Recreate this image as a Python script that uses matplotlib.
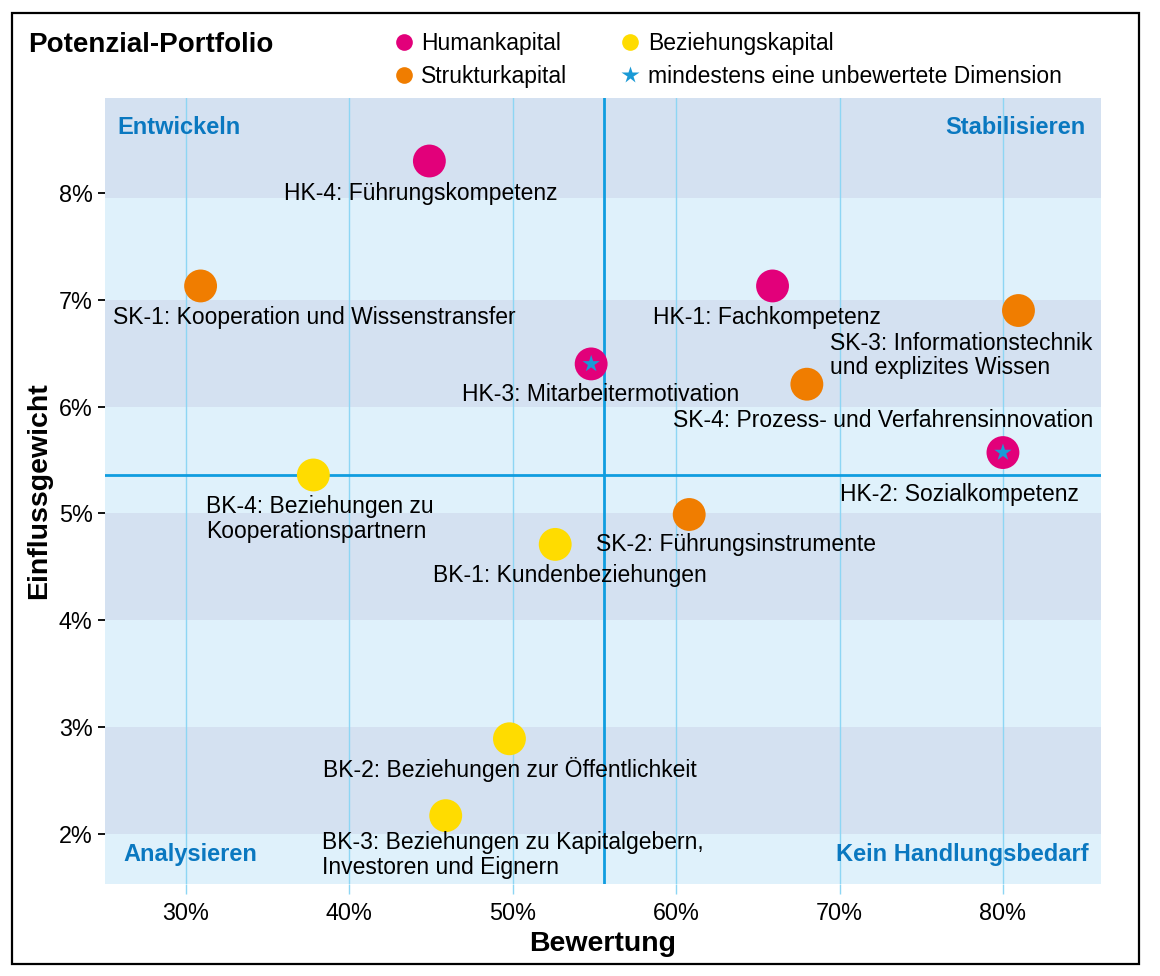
import matplotlib
matplotlib.use("Agg")
import matplotlib.pyplot as plt
from matplotlib.lines import Line2D
from matplotlib.patches import Rectangle

plt.rcParams['font.family'] = ['Liberation Sans', 'DejaVu Sans']

# ---- data ----
labels = ["HK-4: Führungskompetenz", "SK-1: Kooperation und Wissenstransfer",
          "HK-1: Fachkompetenz", "SK-3: Informationstechnik\nund explizites Wissen",
          "HK-3: Mitarbeitermotivation", "SK-4: Prozess- und Verfahrensinnovation",
          "HK-2: Sozialkompetenz", "BK-4: Beziehungen zu\nKooperationspartnern",
          "SK-2: Führungsinstrumente", "BK-1: Kundenbeziehungen",
          "BK-2: Beziehungen zur Öffentlichkeit",
          "BK-3: Beziehungen zu Kapitalgebern,\nInvestoren und Eignern"]
groups = ["HK", "SK", "HK", "SK", "HK", "SK", "HK", "BK", "SK", "BK", "BK", "BK"]
bewertung = [44.9, 30.9, 65.9, 80.95, 54.8, 68.0, 80.0, 37.8, 60.8, 52.6, 49.8, 45.9]
einfluss = [8.30, 7.13, 7.13, 6.90, 6.40, 6.21, 5.57, 5.36, 4.99, 4.71, 2.89, 2.17]
unbewertet = [False, False, False, False, True, False, True, False, False, False, False, False]
mean_x = 55.6
mean_y = 5.36
x_ticks = [30, 40, 50, 60, 70, 80]
y_ticks = [2, 3, 4, 5, 6, 7, 8]
legend_names = ["Humankapital", "Strukturkapital", "Beziehungskapital",
                "mindestens eine unbewertete Dimension"]
quadrants = ["Entwickeln", "Stabilisieren", "Analysieren", "Kein Handlungsbedarf"]

# ---- style ----
colors = {"HK": "#e2007a", "SK": "#f07d00", "BK": "#ffdc00"}
star_color = "#1a9ad6"
dark_band = "#d4e1f1"
light_band = "#dff1fb"
grid_color = "#8dd6f4"
mean_color = "#109de0"
quad_color = "#0a78c0"
# label offsets in pixels (dx, dy) and alignment
offsets = [(-9, -32, 'center'), (114, -32, 'center'), (-6, -32, 'center'),
           (-188, -45, 'left'), (9, -31, 'center'), (76, -36, 'center'),
           (-44, -42, 'center'), (-107, -44, 'left'), (47, -30, 'center'),
           (15, -31, 'center'), (0, -31, 'center'), (-124, -39, 'left')]

W, H = 1160, 976
fig = plt.figure(figsize=(W / 100, H / 100), dpi=100)
fig.patch.set_facecolor("white")
ax = fig.add_axes([105 / W, 1 - 884 / H, (1101 - 105) / W, (884 - 98) / H])

xlim = (25.05, 86.0)
ylim = (1.53, 8.89)
ax.set_xlim(*xlim)
ax.set_ylim(*ylim)

# bands
edges = [ylim[0], 2, 3, 4, 5, 6, 7, 7.95, ylim[1]]
for i in range(len(edges) - 1):
    c = light_band if i % 2 == 0 else dark_band
    ax.axhspan(edges[i], edges[i + 1], color=c, lw=0, zorder=0)

for xv in x_ticks:
    ax.axvline(xv, color=grid_color, lw=1.0, zorder=1)
ax.axvline(mean_x, color=mean_color, lw=2.0, zorder=2)
ax.axhline(mean_y, color=mean_color, lw=2.0, zorder=2)

for sp in ax.spines.values():
    sp.set_visible(False)

ax.set_xticks(x_ticks)
ax.set_xticklabels([f"{v}%" for v in x_ticks])
ax.set_yticks(y_ticks)
ax.set_yticklabels([f"{v}%" for v in y_ticks])
ax.tick_params(axis='x', length=7, width=1, color=grid_color, pad=6, labelsize=16.8)
ax.tick_params(axis='y', length=5, width=1.3, color='black', pad=4, labelsize=16.8)

ax.set_xlabel("Bewertung", fontsize=20.5, fontweight='bold', labelpad=4)
ax.set_ylabel("Einflussgewicht", fontsize=20.5, fontweight='bold', labelpad=5)

# points
for i in range(len(labels)):
    ax.scatter(bewertung[i], einfluss[i], s=560, color=colors[groups[i]],
               edgecolors='none', zorder=4)
    if unbewertet[i]:
        ax.scatter(bewertung[i], einfluss[i], s=170, marker='*', color=star_color,
                   edgecolors='none', zorder=5)
    dx, dy, ha = offsets[i]
    ax.annotate(labels[i], (bewertung[i], einfluss[i]), xytext=(dx, dy),
                textcoords='offset pixels', ha=ha, va='center', fontsize=16.5,
                linespacing=1.1, zorder=6)

# quadrant labels
qkw = dict(transform=ax.transAxes, fontsize=17, fontweight='bold', color=quad_color,
           va='center', zorder=6)
ax.text(0.012, 0.963, quadrants[0], ha='left', **qkw)
ax.text(0.984, 0.963, quadrants[1], ha='right', **qkw)
ax.text(0.018, 0.038, quadrants[2], ha='left', **qkw)
ax.text(0.988, 0.038, quadrants[3], ha='right', **qkw)

# title
fig.text(28 / W, 1 - 45 / H, "Potenzial-Portfolio", fontsize=20, fontweight='bold',
         ha='left', va='center')

# legend
handles = [
    Line2D([], [], ls='none', marker='o', markersize=12, color=colors["HK"], mec='none'),
    Line2D([], [], ls='none', marker='o', markersize=12, color=colors["SK"], mec='none'),
    Line2D([], [], ls='none', marker='o', markersize=12, color=colors["BK"], mec='none'),
    Line2D([], [], ls='none', marker='*', markersize=13, color=star_color, mec='none'),
]
fig.legend(handles, legend_names, ncol=2, frameon=False, fontsize=16.5,
           loc='upper left', bbox_to_anchor=(395 / W, 1 - 32 / H),
           handlelength=0.8, handletextpad=0.35, columnspacing=2.35,
           labelspacing=0.45, borderpad=0, borderaxespad=0)

# outer frame
fig.add_artist(Rectangle((12 / W, 1 - 964 / H), (1139 - 12) / W, (964 - 13) / H,
                         transform=fig.transFigure, fill=False, lw=1.6,
                         edgecolor='black'))

fig.savefig("out.png", dpi=100)
